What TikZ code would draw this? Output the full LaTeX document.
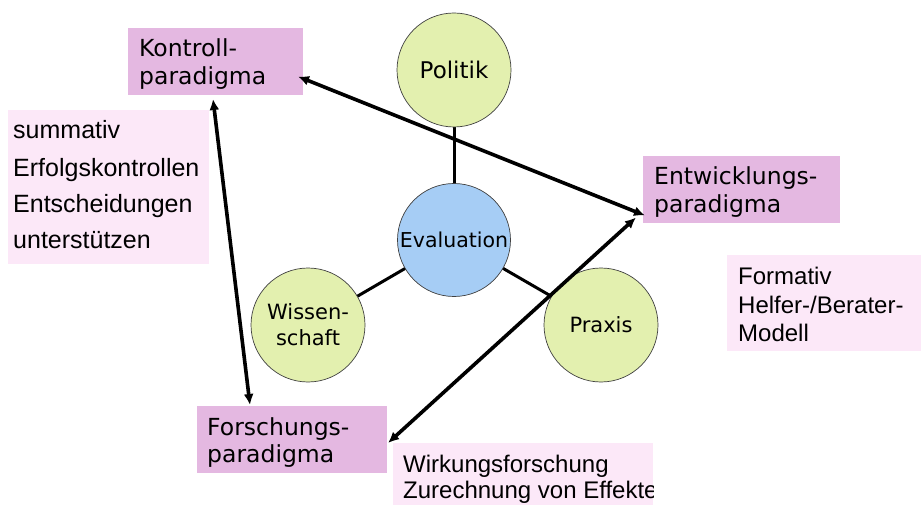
\documentclass[tikz,border=0pt]{standalone}
\usepackage{fontspec}
\setmainfont{DejaVu Sans}
\newfontfamily\notefont{Liberation Sans}
\usetikzlibrary{arrows.meta,calc}
\definecolor{parad}{RGB}{228,184,225}
\definecolor{notebg}{RGB}{252,232,248}
\definecolor{greenc}{RGB}{227,240,175}
\definecolor{bluec}{RGB}{166,205,245}
\begin{document}
\begin{tikzpicture}[x=1pt,y=-1pt,
  parbox/.style={draw=none,fill=parad,inner sep=0pt,outer sep=0pt,anchor=north west},
  notebox/.style={draw=none,fill=notebg,inner sep=0pt,outer sep=0pt,anchor=north west},
  ptext/.style={anchor=base west,inner sep=0pt,font=\fontsize{23.5}{28}\selectfont},
  ntext/.style={anchor=base west,inner sep=0pt,font=\notefont\fontsize{24}{28}\selectfont},
  stext/.style={anchor=base west,inner sep=0pt,font=\notefont\fontsize{25}{28}\selectfont},
  circ/.style={circle,draw=black!75,line width=0.7pt,inner sep=0pt,minimum size=114pt,align=center,font=\fontsize{21}{26}\selectfont},
  link/.style={line width=3pt},
  arr/.style={line width=3.6pt,{Latex[length=11pt,width=10pt]}-{Latex[length=11pt,width=10pt]}}]
\useasboundingbox (0,0) rectangle (921,505);
\fill[white] (0,0) rectangle (921,505);

% boxes
\node[parbox,minimum width=175pt,minimum height=67pt] (kon) at (128,28) {};
\node[parbox,minimum width=197pt,minimum height=67pt] (ent) at (643,156) {};
\node[parbox,minimum width=190pt,minimum height=67pt] (for) at (197,406) {};
\node[notebox,minimum width=201pt,minimum height=154pt] (sum) at (8,110) {};
\node[notebox,minimum width=194pt,minimum height=96pt] (fmt) at (727,255) {};
\node[notebox,minimum width=260pt,minimum height=62pt] (wir) at (393,443) {};

% box texts
\node[ptext] (kon1) at (139,57) {Kontroll-};
\node[ptext] (kon2) at (139,85) {paradigma};
\node[ptext] (ent1) at (654,185) {Entwicklungs-};
\node[ptext] (ent2) at (654,213) {paradigma};
\node[ptext] (for1) at (207,435) {Forschungs-};
\node[ptext] (for2) at (207,462) {paradigma};

\node[stext] (sum1) at (13,139) {summativ};
\node[stext] (sum2) at (13,177) {Erfolgskontrollen};
\node[stext] (sum3) at (13,213) {Entscheidungen};
\node[stext] (sum4) at (13,248) {unterstützen};

\node[ntext] (fmt1) at (738,284) {Formativ};
\node[ntext] (fmt2) at (738,313) {Helfer-/Berater-};
\node[ntext] (fmt3) at (738,341) {Modell};

\begin{scope}
\clip (393,443) rectangle (653,503);
\node[ntext] (wir1) at (403,472) {Wirkungsforschung};
\node[ntext] (wir2) at (403,498) {Zurechnung von Effekten};
\end{scope}

% circle connectors (behind circles)
\coordinate (cpol) at (454,70);
\coordinate (ceva) at (454,240);
\coordinate (cwis) at (308,325);
\coordinate (cpra) at (601,325);
\draw[link] (cpol) -- (ceva);
\draw[link] (ceva) -- (cwis);
\draw[link] (ceva) -- (cpra);

% circles
\node[circ,fill=greenc,font=\fontsize{23}{28}\selectfont] (pol) at (cpol) {Politik};
\node[circ,fill=bluec,minimum size=113pt,font=\fontsize{20.5}{26}\selectfont] (eva) at (ceva) {Evaluation};
\node[circ,fill=greenc] (wis) at (cwis) {Wissen-\\schaft};
\node[circ,fill=greenc] (pra) at (cpra) {Praxis};

% arrows
\coordinate (a1s) at ($(kon.east)+(-5,15)$);
\coordinate (a1e) at ($(ent.west)+(2,26)$);
\coordinate (a2s) at ($(kon.south)+(-2.5,4)$);
\coordinate (a2e) at ($(for.north west)+(53,-1)$);
\coordinate (a3s) at ($(for.east)+(1,3.5)$);
\coordinate (a3e) at ($(ent.west)+(-7,28)$);
\draw[arr] (a1s) -- (a1e);
\draw[arr] (a2s) -- (a2e);
\draw[arr] (a3s) -- (a3e);
\end{tikzpicture}
\end{document}
